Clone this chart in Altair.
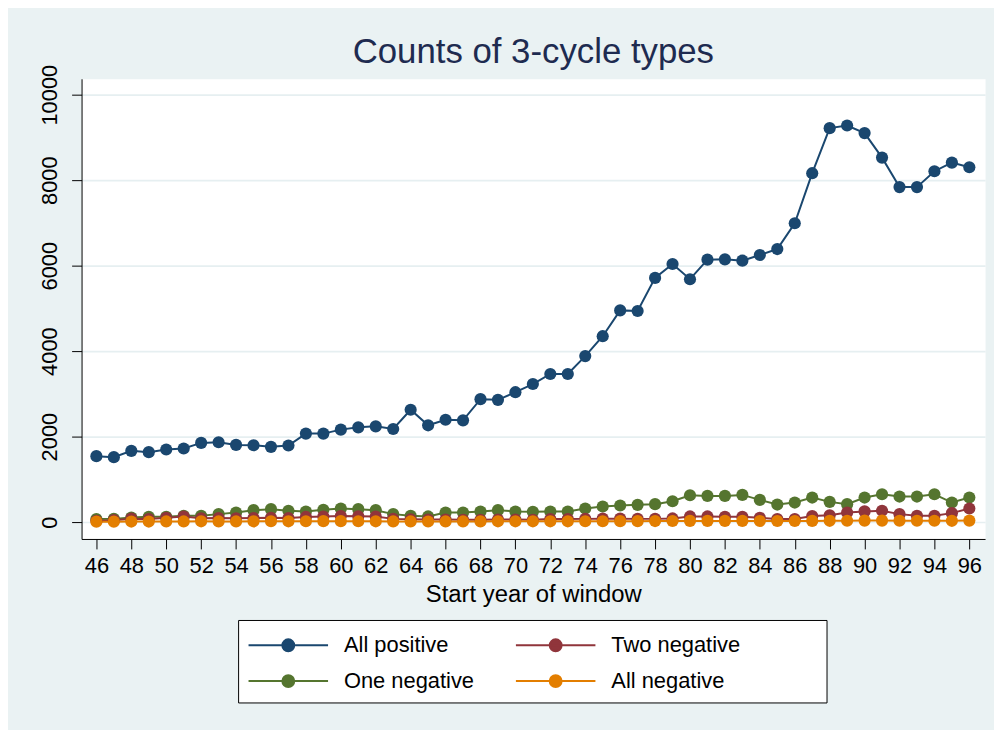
import altair as alt
import pandas as pd

years = [46, 47, 48, 49, 50, 51, 52, 53, 54, 55, 56, 57, 58, 59, 60, 61, 62, 63, 64, 65,
         66, 67, 68, 69, 70, 71, 72, 73, 74, 75, 76, 77, 78, 79, 80, 81, 82, 83, 84, 85,
         86, 87, 88, 89, 90, 91, 92, 93, 94, 95, 96]

all_positive = [1542, 1519, 1667, 1636, 1698, 1721, 1853, 1868, 1806, 1798, 1760, 1791,
                2070, 2070, 2163, 2217, 2240, 2178, 2628, 2264, 2395, 2380, 2876, 2860,
                3039, 3230, 3465, 3465, 3884, 4349, 4953, 4938, 5713, 6039, 5682, 6140,
                6147, 6116, 6248, 6388, 6992, 8163, 9217, 9279, 9101, 8527, 7837, 7837,
                8209, 8411, 8302]

one_negative = [70, 75, 108, 124, 124, 147, 147, 186, 225, 279, 302, 264, 248, 287, 318,
                302, 279, 186, 147, 132, 225, 225, 248, 279, 248, 240, 248, 248, 318, 364,
                388, 403, 419, 488, 628, 612, 612, 636, 519, 410, 457, 574, 473, 419, 574,
                651, 597, 597, 651, 457, 574]

two_negative = [30, 45, 80, 70, 100, 130, 90, 95, 90, 95, 100, 95, 120, 130, 140, 135, 130,
                75, 65, 60, 60, 55, 55, 60, 60, 55, 70, 70, 75, 80, 80, 75, 75, 85, 132,
                132, 125, 125, 100, 70, 70, 140, 160, 225, 250, 264, 186, 147, 147, 209, 318]

all_negative = [10, 10, 12, 12, 15, 15, 18, 15, 15, 18, 20, 18, 20, 22, 22, 20, 18, 15, 15,
                14, 15, 15, 16, 18, 18, 18, 18, 18, 20, 20, 22, 22, 24, 25, 28, 28, 28, 28,
                26, 25, 26, 28, 30, 32, 35, 35, 32, 32, 32, 30, 35]

series_names = ["All positive", "One negative", "Two negative", "All negative"]
series_colors = ["#1A476F", "#55752F", "#90353B", "#E37E00"]
x_ticks = [46, 48, 50, 52, 54, 56, 58, 60, 62, 64, 66, 68, 70, 72, 74, 76, 78, 80, 82, 84,
           86, 88, 90, 92, 94, 96]
y_ticks = [0, 2000, 4000, 6000, 8000, 10000]

values = {
    "All positive": all_positive,
    "One negative": one_negative,
    "Two negative": two_negative,
    "All negative": all_negative,
}
rows = []
for name in series_names:
    for yr, v in zip(years, values[name]):
        rows.append({"year": yr, "count": v, "type": name})
df = pd.DataFrame(rows)

FONT = "Liberation Sans"

x_enc = alt.X("year:Q",
              scale=alt.Scale(domain=[45.15, 96.9], nice=False, zero=False),
              axis=alt.Axis(values=x_ticks, title="Start year of window", format="d",
                            labelFontSize=22, labelFont=FONT, labelColor="black",
                            labelPadding=7, tickSize=10, tickColor="black",
                            domainColor="black", grid=False, labelFlush=False,
                            labelOverlap=False, titleFontSize=24, titleFont=FONT,
                            titleFontWeight="normal", titleColor="black",
                            titlePadding=6))
y_enc = alt.Y("count:Q",
              scale=alt.Scale(domain=[-395, 10372], nice=False, zero=False),
              axis=alt.Axis(values=y_ticks, title=None, format="d", labelFontSize=22,
                            labelFont=FONT, labelColor="black", labelAngle=270,
                            labelAlign="center", labelBaseline="alphabetic",
                            labelPadding=15, tickSize=10, tickColor="black",
                            domainColor="black", grid=True, gridColor="#E6EFF1",
                            gridWidth=1.6))

legend_symbol = ("M-1,0H7M2.4,0A0.6,0.6,0,1,1,3.6,0A0.6,0.6,0,1,1,2.4,0Z")

color_enc = alt.Color("type:N",
                      scale=alt.Scale(domain=series_names, range=series_colors),
                      legend=alt.Legend(title=None, orient="none", legendX=167, legendY=559,
                                        columns=2, symbolType=legend_symbol,
                                        symbolSize=400, symbolStrokeWidth=2,
                                        labelFontSize=22, labelFont=FONT,
                                        labelColor="black", labelOffset=75,
                                        rowPadding=14, columnPadding=38, padding=0))

box = alt.Chart(pd.DataFrame({"box": [0]})).mark_rect(
    fill="white", stroke="black", strokeWidth=1
).encode(x=alt.value(158), x2=alt.value(750), y=alt.value(545), y2=alt.value(628))

lines = alt.Chart(df).mark_line(strokeWidth=2).encode(x=x_enc, y=y_enc, color=color_enc,
                                                       detail="type:N")
points = alt.Chart(df).mark_point(filled=True, size=150, opacity=1).encode(
    x=x_enc, y=y_enc, color=color_enc)

chart = alt.layer(box, lines, points).properties(
    width=909, height=463,
    padding={"left": 74, "top": 69, "right": 9, "bottom": 190},
    autosize=alt.AutoSizeParams(type="none"),
    background="#EAF2F3",
    title=alt.TitleParams(text="Counts of 3-cycle types", fontSize=35, font=FONT,
                          color="#1E2B50", fontWeight="normal", anchor="middle",
                          frame="group", offset=-6),
).configure_view(fill="white", stroke="transparent")

chart.save("out.html", embed_options={"renderer": "svg", "actions": False})
